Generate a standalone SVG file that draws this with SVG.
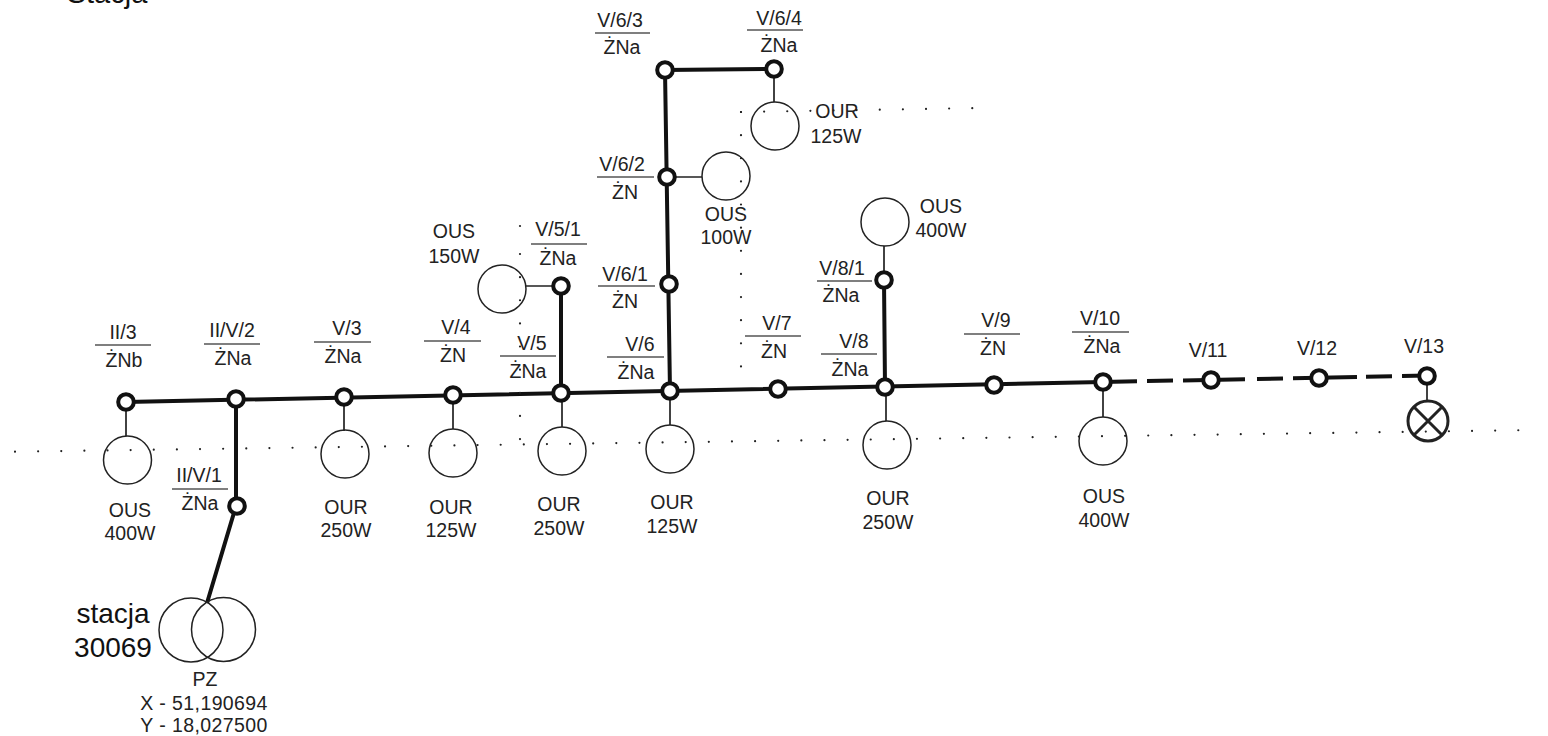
<svg xmlns="http://www.w3.org/2000/svg" width="1548" height="736" viewBox="0 0 1548 736">
<style>
text{font-family:"Liberation Sans",Arial,sans-serif;font-size:19.5px;fill:#222;text-anchor:middle}
.big{font-size:28px;fill:#111}
.wire{stroke:#111;stroke-width:4;fill:none}
.thin{stroke:#222;stroke-width:1.7;fill:none}
.rule{stroke:#555;stroke-width:1.5}
.dots{stroke:#222;stroke-width:2.2;stroke-linecap:round;stroke-dasharray:0 23.13;fill:none}
.pole{fill:#fff;stroke:#111;stroke-width:4}
.lamp{fill:none;stroke:#222;stroke-width:1.5}
.x{fill:none;stroke:#222;stroke-width:3}
</style>
<rect width="1548" height="736" fill="#fff"/>
<text class="big" x="107" y="3" style="font-size:29px">Stacja</text>
<g id="connectors">
<path class="wire" d="M126 402L1103 382M1103 382L1137 381.3M1147 381L1173 380.5M1183 380.4L1245 379.2M1257 379L1283 378.4M1293 378.2L1357 377M1366 376.8L1392 376.3M1402 376.1L1427 375.6"/>
<path class="wire" d="M236 399V506L207 603M561 393V286M670 391L665 70L774 69M885 387L884 280"/>
<path class="thin" d="M126 402V436M344 397V431M453 395V429M562 393V427M670 391V425M886 387V421M1103 382V417M1427 376V400M561 286H526M667 177H702M774 69V102M884 280V246"/>
</g>
<g id="dotted-lines">
<path class="dots" d="M15 451.7L1535 430"/>
<path class="dots" d="M741 112V370"/>
<path class="dots" d="M741 112L980 108"/>
<path class="dots" d="M520 254V440"/>
<circle cx="520" cy="226" r="1.1" fill="#222"/>
</g>
<g id="II-3"><circle class="pole" cx="126" cy="402" r="7.8"/><text x="123" y="339">II/3</text><line class="rule" x1="95" y1="345" x2="151" y2="345"/><text x="124" y="367">ŻNb</text></g>
<g id="II-V-2"><circle class="pole" cx="236" cy="399" r="7.8"/><text x="232" y="337">II/V/2</text><line class="rule" x1="204" y1="344" x2="260" y2="344"/><text x="233" y="365">ŻNa</text></g>
<g id="II-V-1"><circle class="pole" cx="237" cy="506" r="7.8"/><text x="199" y="482">II/V/1</text><line class="rule" x1="172" y1="489" x2="228" y2="489"/><text x="200" y="510">ŻNa</text></g>
<g id="V-3"><circle class="pole" cx="344" cy="397" r="7.8"/><text x="347" y="335">V/3</text><line class="rule" x1="314" y1="342" x2="371" y2="342"/><text x="343" y="363">ŻNa</text></g>
<g id="V-4"><circle class="pole" cx="453" cy="395" r="7.8"/><text x="456" y="334">V/4</text><line class="rule" x1="424" y1="341" x2="481" y2="341"/><text x="453" y="362">ŻN</text></g>
<g id="V-5"><circle class="pole" cx="561" cy="393" r="7.8"/><text x="532" y="350">V/5</text><line class="rule" x1="500" y1="356" x2="556" y2="356"/><text x="528" y="378">ŻNa</text></g>
<g id="V-5-1"><circle class="pole" cx="561" cy="286" r="7.8"/><text x="558" y="236">V/5/1</text><line class="rule" x1="531" y1="244" x2="587" y2="244"/><text x="558" y="265">ŻNa</text></g>
<g id="V-6"><circle class="pole" cx="670" cy="391" r="7.8"/><text x="640" y="351">V/6</text><line class="rule" x1="607" y1="357" x2="664" y2="357"/><text x="636" y="379">ŻNa</text></g>
<g id="V-6-1"><circle class="pole" cx="669" cy="284" r="7.8"/><text x="625" y="281">V/6/1</text><line class="rule" x1="598" y1="286" x2="655" y2="286"/><text x="625" y="308">ŻN</text></g>
<g id="V-6-2"><circle class="pole" cx="667" cy="177" r="7.8"/><text x="622" y="171">V/6/2</text><line class="rule" x1="597" y1="177" x2="654" y2="177"/><text x="625" y="199">ŻN</text></g>
<g id="V-6-3"><circle class="pole" cx="665" cy="70" r="7.8"/><text x="620" y="27">V/6/3</text><line class="rule" x1="595" y1="33" x2="650" y2="33"/><text x="622" y="54">ŻNa</text></g>
<g id="V-6-4"><circle class="pole" cx="774" cy="69" r="7.8"/><text x="779" y="25">V/6/4</text><line class="rule" x1="747" y1="30" x2="803" y2="30"/><text x="779" y="52">ŻNa</text></g>
<g id="V-7"><circle class="pole" cx="778" cy="389" r="7.8"/><text x="777" y="330">V/7</text><line class="rule" x1="745" y1="336" x2="801" y2="336"/><text x="774" y="358">ŻN</text></g>
<g id="V-8"><circle class="pole" cx="885" cy="387" r="7.8"/><text x="854" y="348">V/8</text><line class="rule" x1="821" y1="354" x2="877" y2="354"/><text x="850" y="376">ŻNa</text></g>
<g id="V-8-1"><circle class="pole" cx="884" cy="280" r="7.8"/><text x="842" y="275">V/8/1</text><line class="rule" x1="817" y1="281" x2="872" y2="281"/><text x="841" y="302">ŻNa</text></g>
<g id="V-9"><circle class="pole" cx="994" cy="385" r="7.8"/><text x="996" y="327">V/9</text><line class="rule" x1="964" y1="334" x2="1020" y2="334"/><text x="993" y="355">ŻN</text></g>
<g id="V-10"><circle class="pole" cx="1103" cy="382" r="7.8"/><text x="1100" y="325">V/10</text><line class="rule" x1="1072" y1="332" x2="1129" y2="332"/><text x="1102" y="353">ŻNa</text></g>
<g id="V-11"><circle class="pole" cx="1211" cy="380" r="7.8"/><text x="1208" y="357">V/11</text></g>
<g id="V-12"><circle class="pole" cx="1319" cy="378" r="7.8"/><text x="1317" y="355">V/12</text></g>
<g id="V-13"><circle class="pole" cx="1427" cy="376" r="7.8"/><text x="1424" y="353">V/13</text></g>
<g id="lamp-1"><circle class="lamp" cx="127.5" cy="460" r="24"/><text x="130" y="517">OUS</text><text x="130" y="540">400W</text></g>
<g id="lamp-2"><circle class="lamp" cx="345" cy="454" r="24"/><text x="346" y="514">OUR</text><text x="346" y="537">250W</text></g>
<g id="lamp-3"><circle class="lamp" cx="453" cy="453" r="24"/><text x="451" y="514">OUR</text><text x="451" y="537">125W</text></g>
<g id="lamp-4"><circle class="lamp" cx="562" cy="451" r="24"/><text x="559" y="511">OUR</text><text x="559" y="535">250W</text></g>
<g id="lamp-5"><circle class="lamp" cx="670" cy="449" r="24"/><text x="672" y="509">OUR</text><text x="672" y="533">125W</text></g>
<g id="lamp-6"><circle class="lamp" cx="887" cy="445" r="24"/><text x="888" y="505">OUR</text><text x="888" y="529">250W</text></g>
<g id="lamp-7"><circle class="lamp" cx="1103" cy="441" r="24"/><text x="1104" y="503">OUS</text><text x="1104" y="527">400W</text></g>
<g id="lamp-8"><circle class="lamp" cx="775" cy="126" r="24"/><text x="837" y="118">OUR</text><text x="836" y="143">125W</text></g>
<g id="lamp-9"><circle class="lamp" cx="726" cy="176" r="24"/><text x="726" y="221">OUS</text><text x="726" y="244">100W</text></g>
<g id="lamp-10"><circle class="lamp" cx="885" cy="222" r="24"/><text x="941" y="213">OUS</text><text x="941" y="237">400W</text></g>
<g id="lamp-11"><circle class="lamp" cx="502" cy="289" r="24"/><text x="454" y="238">OUS</text><text x="454" y="263">150W</text></g>
<g id="lamp-x"><circle class="x" cx="1428" cy="421" r="20"/><path class="x" d="M1414 407L1442 435M1442 407L1414 435"/></g>
<g id="station"><circle class="lamp" cx="191" cy="630" r="32"/><circle class="lamp" cx="223.5" cy="629.5" r="32"/><text class="big" x="113" y="623">stacja</text><text class="big" x="113" y="657">30069</text><text x="205" y="686">PZ</text><text x="204" y="710" style="letter-spacing:.4px">X - 51,190694</text><text x="204" y="732" style="letter-spacing:.4px">Y - 18,027500</text></g>
</svg>
